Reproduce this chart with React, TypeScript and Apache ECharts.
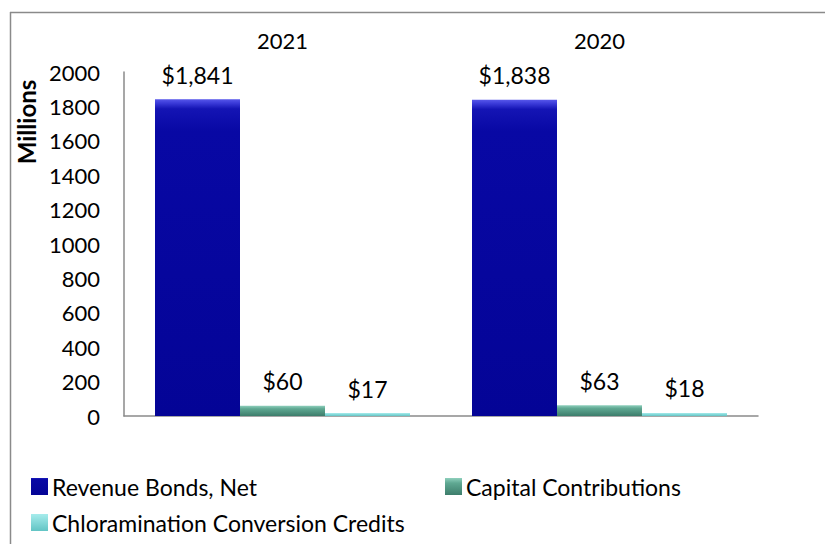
import React, { useEffect, useRef } from "react";
import * as echarts from "echarts";

const categories = ["2021", "2020"];
const revenueBonds = [1841, 1838];
const capitalContributions = [60, 63];
const chloraminationCredits = [17, 18];
const seriesNames = ["Revenue Bonds, Net", "Capital Contributions", "Chloramination Conversion Credits"];
const yMin = 0;
const yMax = 2000;
const yStep = 200;

const FONT = "Lato, 'Noto Sans', sans-serif";

const fmt = (v: number) => "$" + v.toLocaleString("en-US");

const grad = (stops: [number, string][]) =>
  new echarts.graphic.LinearGradient(0, 0, 0, 1, stops.map(([offset, color]) => ({ offset, color })));

export default function App() {
  const ref = useRef<HTMLDivElement>(null);
  useEffect(() => {
    if (!ref.current) return;
    const chart = echarts.init(ref.current, undefined, { renderer: "svg" });
    const labelCfg = {
      show: true,
      position: "top",
      distance: 13,
      fontSize: 23,
      fontFamily: FONT,
      color: "#000",
      formatter: (p: any) => fmt(p.value),
    };
    const axisColor = "#8a8a8a";
    const legendBase = {
      orient: "horizontal",
      icon: "rect",
      itemWidth: 17,
      itemHeight: 17,
      itemGap: 4,
      padding: 0,
      textStyle: { fontSize: 23, fontFamily: FONT, color: "#000", padding: [0, 0, 0, -1] },
    };
    chart.setOption({
      animation: false,
      backgroundColor: "#fff",
      grid: { left: 124, right: 67, top: 72, bottom: 128, containLabel: false },
      xAxis: [
        {
          type: "category",
          data: categories,
          position: "bottom",
          axisLine: { show: true, lineStyle: { color: axisColor, width: 1.5 } },
          axisTick: { show: false },
          axisLabel: { show: false },
          splitLine: { show: false },
        },
        {
          type: "category",
          data: categories,
          position: "top",
          axisLine: { show: false },
          axisTick: { show: false },
          axisLabel: { show: true, fontSize: 22, fontFamily: FONT, color: "#000", margin: 21 },
          splitLine: { show: false },
        },
      ],
      yAxis: {
        type: "value",
        min: yMin,
        max: yMax,
        interval: yStep,
        axisLine: { show: true, lineStyle: { color: axisColor, width: 1.5 } },
        axisTick: { show: false },
        splitLine: { show: false },
        axisLabel: {
          fontSize: 22,
          fontFamily: FONT,
          color: "#000",
          margin: 24,
          formatter: (v: number) => String(v),
        },
      },
      legend: [
        { ...legendBase, left: 31, top: 475, data: [seriesNames[0]] },
        { ...legendBase, left: 445, top: 475, data: [seriesNames[1]] },
        { ...legendBase, left: 31, top: 511, data: [seriesNames[2]] },
      ],
      series: [
        {
          name: seriesNames[0],
          type: "bar",
          xAxisIndex: 0,
          data: revenueBonds,
          barWidth: 85,
          barGap: "0%",
          itemStyle: {
            color: grad([
              [0, "#5656ea"],
              [0.012, "#3a3ad8"],
              [0.03, "#1414b4"],
              [0.1, "#0808a4"],
              [1, "#040496"],
            ]),
          },
          label: labelCfg,
        },
        {
          name: seriesNames[1],
          type: "bar",
          xAxisIndex: 0,
          data: capitalContributions,
          barWidth: 85,
          barGap: "0%",
          itemStyle: {
            color: grad([
              [0, "#8fd0bd"],
              [0.3, "#5fa892"],
              [1, "#3d7d6b"],
            ]),
          },
          label: labelCfg,
        },
        {
          name: seriesNames[2],
          type: "bar",
          xAxisIndex: 0,
          data: chloraminationCredits,
          barWidth: 85,
          barGap: "0%",
          itemStyle: {
            color: grad([
              [0, "#a6ecec"],
              [1, "#62c4c4"],
            ]),
          },
          label: labelCfg,
        },
      ],
      graphic: [
        {
          type: "line",
          shape: { x1: 10, y1: 12.5, x2: 830, y2: 12.5 },
          style: { stroke: "#8a8a8a", lineWidth: 1.5 },
          silent: true,
        },
        {
          type: "line",
          shape: { x1: 10.5, y1: 12, x2: 10.5, y2: 550 },
          style: { stroke: "#8a8a8a", lineWidth: 1.5 },
          silent: true,
        },
        {
          type: "text",
          x: 26,
          y: 122,
          rotation: Math.PI / 2,
          style: {
            text: "Millions",
            fontSize: 24,
            fontWeight: "bold",
            fontFamily: FONT,
            fill: "#000",
            align: "center",
            verticalAlign: "middle",
          },
        },
      ],
    });
    return () => chart.dispose();
  }, []);
  return (
    <div
      ref={ref}
      style={{ position: "fixed", left: 0, top: 0, width: 825, height: 544, background: "#fff" }}
    />
  );
}
